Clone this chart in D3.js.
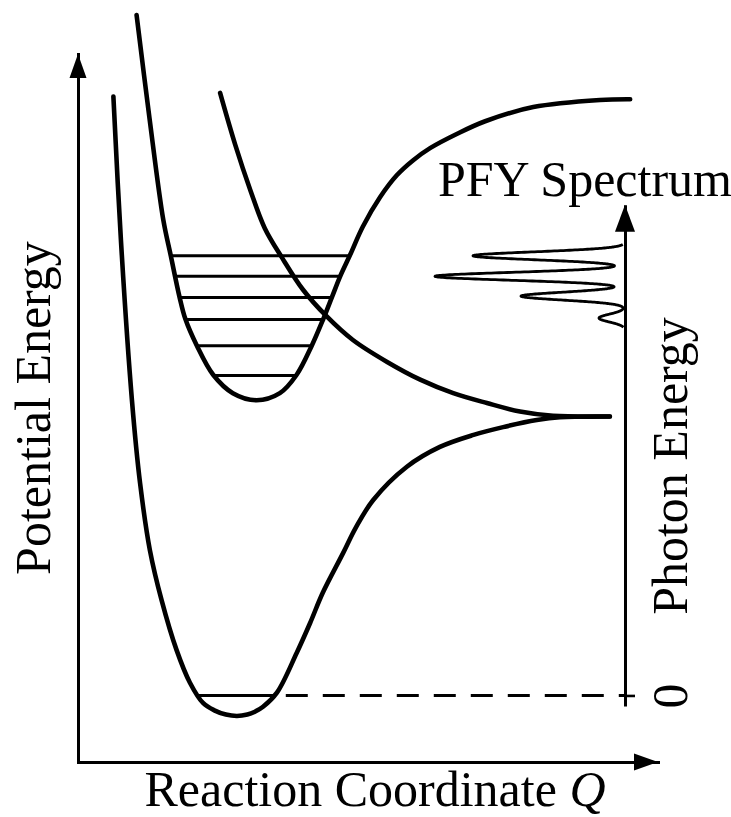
<!DOCTYPE html>
<html>
<head>
<meta charset="utf-8">
<script src="https://cdn.jsdelivr.net/npm/d3@7"></script>
<style>
  html, body { margin: 0; padding: 0; background: #fff; }
  svg { display: block; }
</style>
</head>
<body>
<div id="chart"></div>
<script>
// ---------------- data (Q: reaction coordinate, E: potential energy, arbitrary units) ----------------
// ground-state bound potential [Q, E]
const groundCurve = [
  [0.61, 9.40], [0.74, 7.37], [0.93, 5.11], [1.07, 3.94], [1.24, 2.99], [1.44, 2.29],
  [1.70, 1.58], [1.93, 1.12], [2.16, 0.83], [2.35, 0.73], [2.55, 0.67], [2.74, 0.65],
  [2.92, 0.67], [3.05, 0.71], [3.19, 0.78], [3.43, 0.98],
  [3.77, 1.54], [4.00, 1.96], [4.22, 2.39], [4.57, 2.95], [4.79, 3.31], [5.09, 3.70],
  [5.67, 4.17], [6.24, 4.45], [6.82, 4.62], [7.33, 4.73], [7.91, 4.83], [8.31, 4.87],
  [9.17, 4.88]
];
// core-excited bound potential [Q, E]
const boundCurve = [
  [1.01, 10.55], [1.23, 9.11], [1.47, 7.66], [1.60, 7.15], [1.75, 6.57], [1.85, 6.26],
  [2.05, 5.88], [2.33, 5.47], [2.67, 5.21], [3.08, 5.11], [3.48, 5.21], [3.77, 5.47],
  [4.03, 5.88], [4.23, 6.26], [4.38, 6.57], [4.52, 6.86], [4.69, 7.16], [4.91, 7.56],
  [5.21, 7.98], [5.50, 8.29], [5.78, 8.50], [6.07, 8.67], [6.53, 8.87], [7.02, 9.05],
  [7.85, 9.25], [9.00, 9.35], [9.52, 9.36]
];
// dissociative (repulsive) final-state potential [Q, E]
const repulsiveCurve = [
  [2.45, 9.45], [2.71, 8.72], [2.97, 8.08], [3.22, 7.54], [3.52, 7.12], [3.88, 6.67],
  [4.28, 6.30], [4.74, 5.96], [5.33, 5.65], [5.90, 5.40], [6.47, 5.21], [7.05, 5.07],
  [7.62, 4.95], [8.19, 4.89], [9.17, 4.88]
];
// vibrational levels of the excited bound state
const levelE      = [7.15, 6.86, 6.56, 6.25, 5.88, 5.46];
const levelQLeft  = [1.62, 1.67, 1.76, 1.85, 2.05, 2.33];
const levelQRight = [4.69, 4.52, 4.35, 4.22, 4.03, 3.78];
// ground vibrational level
const groundLevelE = 0.94;
const groundLevelQ = [2.08, 3.41];
// PFY spectrum: peak photon energies (relative to ground level) and intensities
const peakPhoton    = [6.21, 5.92, 5.64, 5.33];
const peakIntensity = [0.76, 0.95, 0.52, 0.13];
const peakWidth     = 0.055;
const spectrumRange = [5.20, 6.37];
const photonExtent  = [-0.15, 6.93];
const photonTicks   = [0];
// texts
const xTitle = "Reaction Coordinate ";
const xVar   = "Q";
const yTitle = "Potential Energy";
const spectrumTitle = "PFY Spectrum";
const photonTitle   = "Photon Energy";

// ---------------- layout ----------------
const W = 731, H = 817;
const FONT = "'Liberation Serif', 'Times New Roman', Times, serif";
const FS = 50;
const photonAxisX = 625;

const svg = d3.select("#chart").append("svg")
  .attr("width", W).attr("height", H)
  .attr("viewBox", `0 0 ${W} ${H}`);

const x = d3.scaleLinear().domain([0, 10]).range([78, 658]);
const y = d3.scaleLinear().domain([0, 10]).range([762, 54]);
const photon = d3.scaleLinear().domain(photonExtent)
  .range([y(groundLevelE + photonExtent[0]), y(groundLevelE + photonExtent[1])]);
const intensity = d3.scaleLinear().domain([0, 1]).range([photonAxisX, photonAxisX - 200]);

// ---------------- axes ----------------
const axisStyle = g => g.select(".domain")
  .attr("stroke", "#000").attr("stroke-width", 3).attr("stroke-linecap", "square");

svg.append("g").attr("transform", `translate(0,${y(0)})`)
  .call(d3.axisBottom(x).tickValues([]).tickSizeOuter(0)).call(axisStyle);
svg.append("g").attr("transform", `translate(${x(0)},0)`)
  .call(d3.axisLeft(y).tickValues([]).tickSizeOuter(0)).call(axisStyle);

function arrowHead(tx, ty, dir, len, half) {
  const pts = dir === "up"
    ? [[tx, ty], [tx - half, ty + len], [tx + half, ty + len]]
    : [[tx, ty], [tx - len, ty - half], [tx - len, ty + half]];
  svg.append("path").attr("d", d3.line()(pts) + "Z").attr("fill", "#000");
}
arrowHead(x(0), y(10), "up", 24, 8.5);
arrowHead(x(10), y(0), "right", 24, 8.5);

// photon-energy axis
const pAxis = svg.append("g").attr("transform", `translate(${photonAxisX},0)`)
  .call(d3.axisRight(photon).tickValues(photonTicks).tickSize(10).tickSizeOuter(0).tickFormat(d3.format("d")));
pAxis.select(".domain").attr("stroke", "#000").attr("stroke-width", 3);
pAxis.selectAll(".tick line").attr("stroke", "#000").attr("stroke-width", 2.6);
pAxis.selectAll(".tick text")
  .attr("transform", "rotate(-90)")
  .attr("x", 0).attr("y", 62).attr("dy", 0)
  .attr("text-anchor", "middle")
  .attr("fill", "#000")
  .style("font-family", FONT).style("font-size", FS + "px");
arrowHead(photonAxisX, photon(photonExtent[1]), "up", 27, 10);

// ---------------- potential curves ----------------
const line = d3.line().x(d => x(d[0])).y(d => y(d[1])).curve(d3.curveCatmullRom.alpha(0.5));
[groundCurve, boundCurve, repulsiveCurve].forEach(c => {
  svg.append("path").attr("d", line(c))
    .attr("fill", "none").attr("stroke", "#000").attr("stroke-width", 4.6)
    .attr("stroke-linecap", "round").attr("stroke-linejoin", "round");
});

// vibrational levels
svg.append("g").selectAll("line").data(levelE).join("line")
  .attr("x1", (d, i) => x(levelQLeft[i])).attr("x2", (d, i) => x(levelQRight[i]))
  .attr("y1", d => y(d)).attr("y2", d => y(d))
  .attr("stroke", "#000").attr("stroke-width", 3);

// ground level: solid inside the well, dashed out to the photon axis
svg.append("line")
  .attr("x1", x(groundLevelQ[0])).attr("x2", x(groundLevelQ[1]))
  .attr("y1", y(groundLevelE)).attr("y2", y(groundLevelE))
  .attr("stroke", "#000").attr("stroke-width", 3);
svg.append("line")
  .attr("x1", x(groundLevelQ[1])).attr("x2", photonAxisX)
  .attr("y1", y(groundLevelE)).attr("y2", y(groundLevelE))
  .attr("stroke", "#000").attr("stroke-width", 3)
  .attr("stroke-dasharray", "22 15").attr("stroke-dashoffset", 27);

// ---------------- PFY spectrum ----------------
const samples = d3.range(spectrumRange[0], spectrumRange[1] + 1e-9, 0.002).map(p => [
  p,
  d3.sum(peakPhoton, (pk, i) => peakIntensity[i] * Math.exp(-((p - pk) ** 2) / (2 * peakWidth ** 2)))
]);
svg.append("path")
  .attr("d", d3.line().x(d => intensity(d[1])).y(d => photon(d[0]))(samples))
  .attr("fill", "none").attr("stroke", "#000").attr("stroke-width", 2.8)
  .attr("stroke-linejoin", "round");

// ---------------- texts ----------------
const txt = (sel) => sel.attr("fill", "#000").style("font-family", FONT).style("font-size", FS + "px");

svg.append("text").call(txt)
  .attr("transform", "translate(50,408)rotate(-90)")
  .attr("text-anchor", "middle").text(yTitle);

const xt = svg.append("text").call(txt)
  .attr("x", 375).attr("y", 806).attr("text-anchor", "middle");
xt.append("tspan").text(xTitle);
xt.append("tspan").style("font-style", "italic").text(xVar);

svg.append("text").call(txt)
  .attr("x", 438).attr("y", 196).text(spectrumTitle);

svg.append("text").call(txt)
  .attr("transform", "translate(687,466)rotate(-90)")
  .attr("text-anchor", "middle").text(photonTitle);
</script>
</body>
</html>
